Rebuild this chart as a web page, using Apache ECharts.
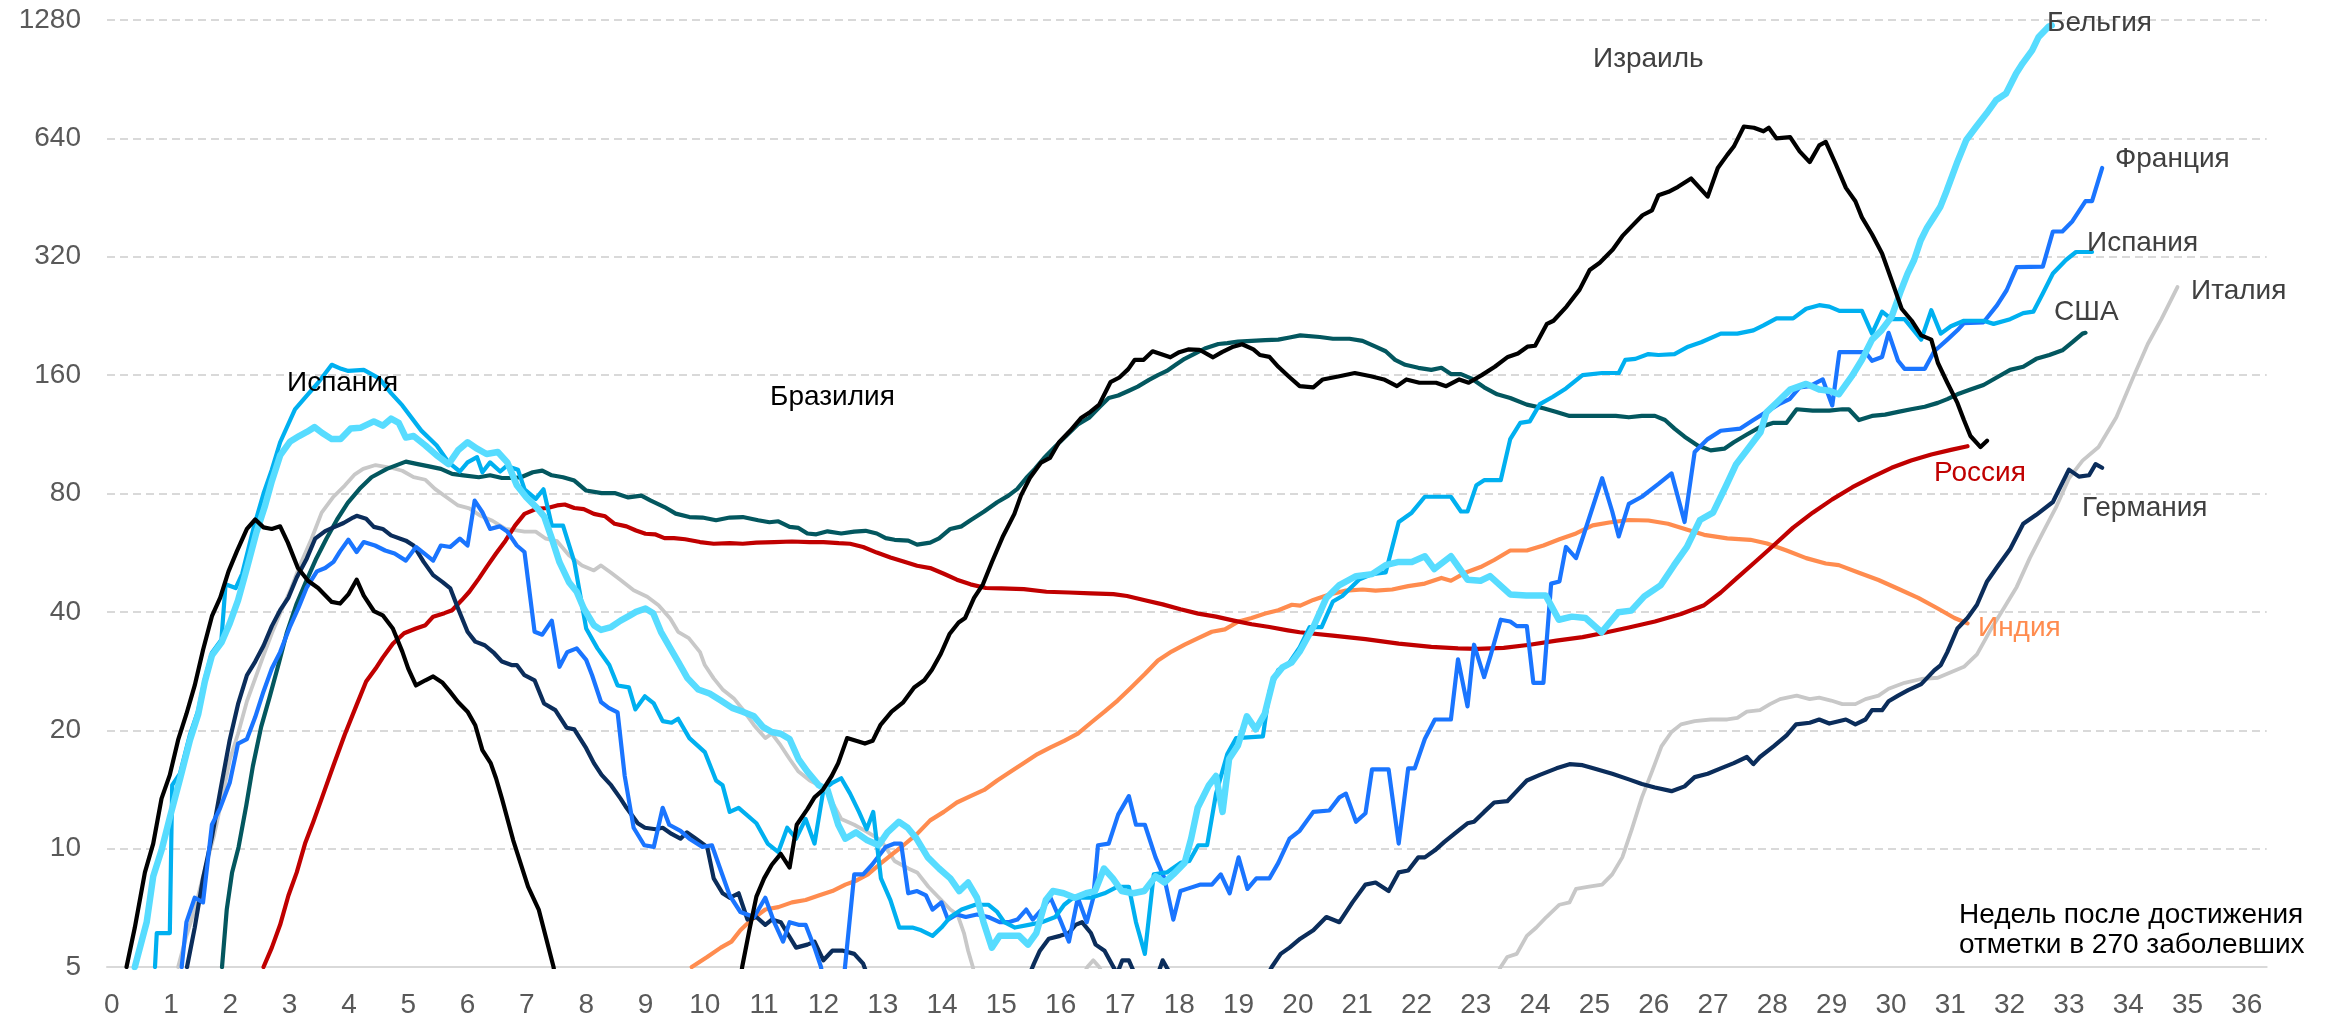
<!DOCTYPE html>
<html>
<head>
<meta charset="utf-8">
<script src="https://cdn.jsdelivr.net/npm/echarts@6/dist/echarts.min.js"></script>
<style>
html,body{margin:0;padding:0;background:#fff;}
#c{width:2331px;height:1019px;}
</style>
</head>
<body>
<div id="c"></div>
<script>
// ---- Axis ticks ----
const WEEK_TICKS = Array.from({length: 37}, (_, i) => i);
const Y_TICK_LABELS = [5, 10, 20, 40, 80, 160, 320, 640, 1280];

// ---- Series data: [weeks since 270 cases, value] ----
const ISRAEL = [[0.25,5],[0.39,6.3],[0.56,8.7],[0.70,10.3],[0.84,13.4],[0.98,15.4],[1.12,18.9],[1.26,22],[1.40,26],[1.54,32],[1.69,39],[1.83,43.5],[1.97,50.7],[2.11,57],[2.28,65],[2.42,68.7],[2.56,65.6],[2.70,65],[2.84,66],[2.97,60],[3.14,51.7],[3.31,48],[3.48,46],[3.71,42.4],[3.85,42],[3.99,44.3],[4.13,48.3],[4.25,44],[4.42,40.2],[4.57,39.2],[4.74,36.3],[4.90,31.7],[5.0,28.7],[5.13,26],[5.29,26.8],[5.42,27.4],[5.58,26.4],[5.70,25.1],[5.84,23.6],[6.0,22.3],[6.13,20.6],[6.25,17.8],[6.39,16.5],[6.48,15.1],[6.58,13.4],[6.77,10.5],[7.02,8],[7.2,7],[7.45,5],[7.6,3.5],[9,2.5],[10.5,3.5],[10.63,5],[10.76,6.3],[10.87,7.55],[11.0,8.4],[11.13,9.1],[11.28,9.7],[11.43,8.95],[11.55,11.5],[11.73,12.6],[11.85,13.5],[11.99,14.1],[12.14,15.3],[12.25,16.5],[12.40,19.1],[12.55,18.8],[12.70,18.5],[12.83,18.8],[12.96,20.6],[13.15,22.3],[13.34,23.5],[13.53,25.7],[13.70,26.8],[13.83,28.5],[13.98,31.3],[14.13,35.2],[14.28,37.6],[14.39,38.6],[14.54,43.4],[14.69,47],[14.84,53.5],[15.03,62.4],[15.22,71],[15.33,79],[15.48,87.6],[15.67,95.9],[15.82,98.5],[15.97,107.8],[16.16,115.5],[16.35,124.7],[16.50,129],[16.65,134.6],[16.84,153.5],[16.99,157.8],[17.14,165.7],[17.25,175],[17.40,175],[17.55,184],[17.70,180.7],[17.85,177.6],[18.0,183],[18.15,186],[18.34,185.6],[18.57,177.6],[18.72,183],[18.91,189],[19.06,191.7],[19.25,186],[19.36,180],[19.52,178],[19.67,168],[19.86,158],[20.03,150],[20.26,149],[20.42,156],[20.7,159],[20.96,162],[21.23,159],[21.45,156],[21.67,150],[21.83,156],[22.05,153],[22.33,153],[22.5,150],[22.72,156],[22.88,153],[23.1,160],[23.32,168],[23.54,178],[23.71,181.6],[23.87,189],[24.0,190],[24.2,216],[24.31,220],[24.53,239],[24.75,264],[24.92,296],[25.09,309],[25.31,334],[25.47,361],[25.64,384],[25.81,408],[25.97,420],[26.08,459],[26.25,468],[26.41,482],[26.63,506],[26.91,455],[27.08,538],[27.24,581],[27.35,610],[27.52,686],[27.69,681],[27.85,667],[27.94,681],[28.07,640],[28.3,645],[28.46,593],[28.63,557],[28.79,614],[28.9,627],[29.07,550],[29.24,479],[29.4,443],[29.51,403],[29.68,365],[29.85,326],[30.01,279],[30.18,236],[30.35,220],[30.51,202],[30.68,197],[30.79,172],[30.95,153],[31.12,136],[31.23,123],[31.34,112],[31.51,105],[31.62,109]];

const BELGIUM = [[0.39,5],[0.59,6.5],[0.70,8.5],[0.84,9.9],[0.98,12],[1.15,15],[1.32,18.9],[1.46,22],[1.57,26.6],[1.69,31],[1.85,33.4],[1.99,37.4],[2.13,42.8],[2.28,51.7],[2.44,63.7],[2.58,74],[2.70,86],[2.84,100],[3.01,108.5],[3.16,112],[3.29,114.7],[3.42,118],[3.55,114],[3.71,110],[3.86,110],[4.03,117],[4.19,117.5],[4.42,122],[4.57,119],[4.71,124],[4.84,121],[4.96,111],[5.09,112],[5.29,106],[5.48,100],[5.68,95],[5.84,103],[6.0,108],[6.16,104],[6.32,100.8],[6.51,102],[6.67,96],[6.83,84],[6.99,78.3],[7.19,73],[7.29,70],[7.42,61.5],[7.55,53.5],[7.71,47.6],[7.84,45],[7.96,40.8],[8.13,37],[8.25,36],[8.42,36.6],[8.58,38],[8.74,39.2],[8.84,40],[9.0,40.8],[9.13,39.7],[9.26,35.6],[9.42,32.3],[9.55,29.9],[9.71,27.1],[9.89,25.4],[10.08,24.8],[10.27,23.8],[10.46,22.8],[10.64,22.3],[10.83,21.7],[10.98,20.4],[11.13,19.8],[11.28,19.6],[11.43,19],[11.58,16.9],[11.73,15.7],[11.92,14.5],[12.07,14.1],[12.25,11.5],[12.37,10.6],[12.55,11.0],[12.74,10.5],[12.93,10.2],[13.08,11],[13.27,11.7],[13.42,11.3],[13.57,10.6],[13.76,9.5],[13.95,8.9],[14.14,8.4],[14.29,7.8],[14.44,8.2],[14.59,7.5],[14.70,6.5],[14.84,5.6],[14.97,6.0],[15.15,6.0],[15.3,6.0],[15.45,5.7],[15.59,6.1],[15.75,7.4],[15.87,7.8],[16.05,7.7],[16.24,7.5],[16.43,7.7],[16.58,7.8],[16.73,8.9],[16.88,8.4],[17.03,7.8],[17.22,7.7],[17.41,7.8],[17.6,8.5],[17.75,8.2],[17.9,8.6],[18.09,9.2],[18.2,10.6],[18.31,12.7],[18.5,14.5],[18.62,15.3],[18.73,12.4],[18.84,16.9],[18.99,18.3],[19.14,21.7],[19.29,20.1],[19.44,22],[19.59,27.1],[19.74,28.9],[19.89,29.7],[20.03,31.7],[20.26,36.6],[20.48,43.4],[20.7,46.8],[20.98,49.3],[21.25,49.9],[21.48,52.6],[21.7,53.6],[21.92,53.6],[22.14,55.4],[22.3,51.4],[22.58,55.4],[22.86,48.3],[23.08,48],[23.24,49.3],[23.58,44.3],[23.85,44],[24.18,44],[24.4,38.2],[24.62,38.9],[24.85,38.6],[25.12,35.5],[25.4,39.9],[25.62,40.3],[25.84,43.8],[26.12,46.8],[26.34,52.5],[26.56,58.5],[26.78,68.5],[27.0,71.5],[27.22,83.7],[27.39,95],[27.57,103],[27.8,114.5],[27.9,128.7],[28.07,136],[28.3,147],[28.57,152],[28.79,147],[28.96,146],[29.12,143],[29.34,159],[29.51,175],[29.68,197],[29.84,208],[30.01,225],[30.17,263],[30.28,290],[30.39,314],[30.5,352],[30.61,380],[30.72,403],[30.83,428],[30.94,471],[31.11,553],[31.27,634],[31.44,686],[31.61,740],[31.77,800],[31.94,832],[32.11,936],[32.22,993],[32.38,1071],[32.49,1159],[32.66,1232],[32.71,1240]];

const SPAIN = [[0.73,5],[0.76,6.1],[0.98,6.1],[1.02,14.5],[1.15,15.5],[1.32,19.5],[1.46,22.5],[1.57,27],[1.69,31.5],[1.85,34],[1.92,47],[2.09,46],[2.2,50],[2.4,66],[2.56,80],[2.7,92],[2.84,108],[3.09,131],[3.29,142],[3.48,153],[3.71,170],[3.87,166],[3.99,164],[4.25,165],[4.51,157],[4.71,144],[4.90,134],[5.22,115.6],[5.48,106],[5.68,96],[5.87,91],[6.0,96],[6.16,99],[6.25,90.6],[6.38,96],[6.55,91],[6.66,94],[6.85,92],[6.96,82],[7.15,77.5],[7.28,82],[7.42,66.3],[7.61,66.3],[7.80,53.6],[8.0,36.3],[8.19,32.3],[8.39,29.3],[8.53,26],[8.72,25.7],[8.83,22.6],[8.99,24.4],[9.14,23.4],[9.29,21.1],[9.44,20.9],[9.55,21.4],[9.74,19.1],[10.0,17.6],[10.19,14.9],[10.3,14.5],[10.42,12.4],[10.57,12.7],[10.87,11.6],[11.06,10.3],[11.24,9.8],[11.39,11.3],[11.54,10.6],[11.7,11.9],[11.85,10.3],[12.0,14.1],[12.15,14.7],[12.3,15.1],[12.45,13.8],[12.6,12.4],[12.73,11.2],[12.84,12.4],[12.97,8.4],[13.13,7.4],[13.28,6.3],[13.5,6.3],[13.65,6.2],[13.84,6.0],[13.99,6.3],[14.14,6.7],[14.33,7.0],[14.56,7.2],[14.78,7.2],[14.93,6.9],[15.05,6.5],[15.23,6.3],[15.46,6.4],[15.68,6.5],[15.91,6.7],[16.06,7.2],[16.21,7.5],[16.51,7.5],[16.74,7.7],[16.96,8.0],[17.15,8.0],[17.27,6.5],[17.42,5.4],[17.57,8.6],[17.79,8.7],[18.02,9.2],[18.17,9.3],[18.32,10.2],[18.47,10.2],[18.62,13.8],[18.81,17.4],[18.96,19.1],[19.41,19.3],[19.52,25.1],[19.67,28.5],[19.83,29.3],[20.03,32.5],[20.2,36.6],[20.4,36.6],[20.59,42.5],[20.75,43.9],[21.03,48.3],[21.25,49.9],[21.48,50.4],[21.7,67.7],[21.92,71.5],[22.14,78.5],[22.58,78.5],[22.75,72],[22.86,72],[23.01,84],[23.14,86.5],[23.42,86.5],[23.58,110],[23.75,121],[23.91,122],[24.08,135],[24.3,141],[24.52,148],[24.8,160],[25.13,162],[25.41,162],[25.52,175],[25.69,176],[25.91,181],[26.08,180],[26.35,181],[26.58,189],[26.8,194],[27.13,204],[27.41,204],[27.68,208],[27.85,214],[28.07,223],[28.35,223],[28.57,236],[28.79,241],[28.96,239],[29.13,233],[29.51,233],[29.68,204],[29.85,232],[30.01,222],[30.23,222],[30.51,197],[30.68,234],[30.84,204],[31.01,213],[31.23,220],[31.56,220],[31.73,216],[32.01,222],[32.23,230],[32.4,232],[32.56,258],[32.73,290],[32.95,314],[33.12,329],[33.39,329]];

const FRANCE = [[1.18,5],[1.26,6.5],[1.40,7.5],[1.54,7.3],[1.69,11.5],[1.83,12.7],[1.99,14.7],[2.13,18.5],[2.28,19],[2.42,21.6],[2.56,25.1],[2.70,28.7],[2.84,31.6],[3.01,36.8],[3.15,41],[3.29,46.2],[3.46,50.7],[3.60,51.7],[3.74,53.6],[3.85,57],[3.99,61],[4.13,56.8],[4.25,60.2],[4.44,59],[4.61,57.3],[4.77,56.3],[4.96,54],[5.13,58.5],[5.29,56],[5.42,54],[5.55,59],[5.71,58.5],[5.87,61.4],[6.0,59],[6.12,76.7],[6.25,71.7],[6.38,65],[6.54,66],[6.67,64],[6.83,59],[6.96,56.8],[7.13,35.6],[7.26,35],[7.42,38],[7.55,29],[7.68,31.6],[7.84,32.3],[8.0,30.2],[8.1,27.6],[8.25,23.6],[8.38,22.8],[8.53,22.2],[8.65,15.3],[8.8,11.3],[8.98,10.2],[9.14,10.1],[9.29,12.7],[9.4,11.5],[9.59,11.1],[9.74,10.6],[9.96,10.1],[10.12,10.2],[10.27,8.8],[10.42,7.6],[10.6,6.9],[10.83,6.7],[11.02,7.5],[11.17,6.5],[11.32,5.8],[11.43,6.5],[11.58,6.4],[11.7,6.4],[11.85,5.6],[11.96,5],[12.1,3.5],[12.3,4],[12.52,8.6],[12.67,8.6],[12.82,9.1],[13.05,10.1],[13.2,10.3],[13.31,10.3],[13.43,7.7],[13.58,7.8],[13.73,7.6],[13.84,7.0],[13.99,7.3],[14.1,6.6],[14.25,6.8],[14.4,6.7],[14.59,6.8],[14.78,6.7],[14.97,6.5],[15.12,6.5],[15.27,6.6],[15.42,7.0],[15.53,6.6],[15.68,7.0],[15.83,7.5],[15.99,6.6],[16.14,5.8],[16.29,7.5],[16.44,6.5],[16.55,7.5],[16.63,10.2],[16.81,10.3],[16.97,12.2],[17.15,13.6],[17.27,11.5],[17.42,11.5],[17.6,9.5],[17.75,8.4],[17.9,6.6],[18.02,7.8],[18.13,7.9],[18.36,8.1],[18.55,8.1],[18.7,8.6],[18.85,7.7],[19.0,9.5],[19.15,7.9],[19.3,8.4],[19.52,8.4],[19.67,9.2],[19.86,10.6],[20.03,11.1],[20.26,12.4],[20.53,12.5],[20.7,13.5],[20.81,13.8],[20.98,11.7],[21.14,12.3],[21.25,15.9],[21.53,15.9],[21.7,10.3],[21.86,16.0],[21.97,16],[22.14,19],[22.31,21.3],[22.58,21.3],[22.7,30.3],[22.86,23],[22.97,33],[23.14,27.3],[23.25,31],[23.42,38.2],[23.58,37.8],[23.69,36.8],[23.86,36.8],[23.97,26.4],[24.14,26.4],[24.27,47.2],[24.41,47.8],[24.52,58.5],[24.69,54.8],[24.91,69.2],[25.13,87.5],[25.3,72],[25.41,62.2],[25.58,75.3],[25.8,78.5],[26.08,84.6],[26.3,90],[26.52,67.7],[26.69,102],[26.91,110],[27.13,115.5],[27.46,117],[27.68,123],[27.9,129],[28.13,135.5],[28.29,139],[28.46,149],[28.63,150],[28.85,156],[29.01,134],[29.13,183],[29.57,183],[29.68,174],[29.85,178],[29.96,205],[30.12,174],[30.23,166],[30.57,166],[30.73,184],[30.95,197],[31.12,208],[31.23,217],[31.56,218],[31.79,241],[31.95,263],[32.12,301],[32.56,302],[32.73,371],[32.89,371],[33.06,394],[33.28,443],[33.39,443],[33.56,538]];

const GERMANY = [[1.27,5],[1.40,6.3],[1.54,8.4],[1.69,10.7],[1.83,14],[1.99,18.9],[2.13,23.3],[2.28,27.6],[2.42,29.9],[2.56,32.8],[2.70,36.8],[2.84,40.4],[2.98,43.5],[3.12,48.9],[3.29,54.7],[3.43,61.4],[3.6,64.2],[3.74,65.6],[3.91,67.3],[4.07,69.5],[4.13,70.2],[4.29,69],[4.42,65.8],[4.57,65],[4.71,62.6],[4.96,60.7],[5.09,59],[5.26,53.6],[5.42,49.6],[5.58,47.6],[5.71,45.9],[5.84,40.8],[6.0,35.6],[6.13,33.6],[6.29,32.9],[6.45,31.4],[6.58,29.9],[6.74,29.3],[6.83,29.3],[6.96,27.6],[7.13,26.8],[7.29,23.4],[7.48,22.5],[7.67,20.3],[7.8,20.1],[8.0,18],[8.13,16.5],[8.26,15.4],[8.42,14.5],[8.58,13.4],[8.68,12.7],[8.87,11.6],[8.99,11.3],[9.17,11.2],[9.29,11.3],[9.44,10.9],[9.59,10.6],[9.7,11.0],[9.85,10.6],[10.04,10.1],[10.15,8.4],[10.3,7.7],[10.42,7.5],[10.57,7.7],[10.72,6.6],[10.87,6.7],[11.02,6.4],[11.13,6.6],[11.28,6.5],[11.39,6.1],[11.54,5.6],[11.73,5.7],[11.85,5.8],[12.0,5.2],[12.15,5.5],[12.33,5.5],[12.52,5.4],[12.67,5.1],[12.8,4.5],[14,3],[15.4,4.5],[15.55,5.1],[15.65,5.5],[15.8,5.9],[15.99,6.0],[16.14,6.1],[16.25,6.4],[16.36,6.5],[16.51,6.1],[16.59,5.7],[16.74,5.5],[16.89,5.0],[16.95,4.8],[17.04,5.2],[17.15,5.2],[17.25,4.8],[17.6,4.6],[17.72,5.2],[17.85,4.8],[18.5,3.5],[19.4,4.5],[19.56,5],[19.71,5.4],[19.86,5.6],[20.04,5.9],[20.26,6.2],[20.48,6.7],[20.7,6.5],[20.92,7.3],[21.14,8.1],[21.31,8.2],[21.53,7.8],[21.7,8.7],[21.86,8.8],[22.03,9.5],[22.14,9.5],[22.31,9.9],[22.47,10.4],[22.7,11.1],[22.86,11.6],[22.97,11.7],[23.14,12.4],[23.31,13.1],[23.53,13.2],[23.69,14],[23.86,14.9],[24.08,15.4],[24.36,16],[24.58,16.4],[24.8,16.3],[24.98,16],[25.3,15.5],[25.58,15],[25.8,14.6],[26.02,14.3],[26.3,14],[26.52,14.4],[26.69,15.2],[26.91,15.5],[27.13,16],[27.35,16.5],[27.57,17.1],[27.68,16.4],[27.79,17.1],[28.02,18.2],[28.24,19.4],[28.4,20.7],[28.63,20.9],[28.79,21.3],[28.96,20.8],[29.24,21.3],[29.4,20.7],[29.57,21.3],[29.68,22.5],[29.85,22.5],[29.96,23.7],[30.12,24.5],[30.29,25.3],[30.51,26.2],[30.73,28.4],[30.84,29.3],[30.95,31.6],[31.12,36.3],[31.29,38.6],[31.45,41.7],[31.62,47.8],[31.79,52],[32.01,57.8],[32.23,67],[32.45,70.6],[32.73,76.1],[33.0,92],[33.17,88.3],[33.34,89],[33.45,95],[33.56,93]];

const ITALY = [[1.12,5],[1.26,6],[1.4,7.0],[1.54,8.5],[1.72,10.7],[1.86,13.4],[1.99,16.8],[2.13,19.6],[2.28,23.7],[2.42,27.1],[2.56,31],[2.7,35.3],[2.84,39.7],[3.01,45.3],[3.18,52.8],[3.37,61.4],[3.54,71.5],[3.74,78.5],[3.93,83.8],[4.1,89.5],[4.24,92.4],[4.45,94.5],[4.71,93],[4.9,91.4],[5.09,88],[5.29,86.7],[5.45,82.2],[5.64,78.4],[5.84,74.6],[6.03,73.3],[6.22,70.2],[6.42,68.2],[6.64,65],[6.83,64.5],[6.96,64],[7.15,64],[7.32,61.4],[7.51,60.5],[7.71,55.7],[7.93,52.5],[8.13,51],[8.25,52.5],[8.42,50.3],[8.58,48.2],[8.8,45.4],[9.03,43.7],[9.22,41.6],[9.42,38.4],[9.55,35.6],[9.73,34.3],[9.92,31.6],[10.0,29.3],[10.15,27.1],[10.3,25.4],[10.49,24.1],[10.64,22.6],[10.83,20.6],[11.02,19.1],[11.13,19.6],[11.28,18.3],[11.43,16.9],[11.58,15.7],[11.77,14.9],[11.92,14.5],[12.07,13.8],[12.3,11.9],[12.52,11.5],[12.75,11.0],[12.97,10.5],[13.2,9.3],[13.43,8.9],[13.58,8.7],[13.77,8.0],[13.95,7.5],[14.14,7.0],[14.26,6.8],[14.37,6.1],[14.44,5.5],[14.52,5],[14.7,3.5],[16.3,4.5],[16.45,5.0],[16.55,5.2],[16.65,5.0],[16.8,4.5],[20,3],[23.3,4.6],[23.42,5],[23.53,5.3],[23.69,5.4],[23.86,6.0],[24.02,6.3],[24.19,6.7],[24.41,7.2],[24.58,7.3],[24.69,7.9],[24.91,8],[25.13,8.1],[25.3,8.6],[25.47,9.5],[25.63,11.2],[25.8,13.5],[25.97,15.7],[26.13,18.2],[26.3,19.8],[26.46,20.7],[26.69,21.1],[26.96,21.3],[27.24,21.3],[27.41,21.5],[27.57,22.3],[27.79,22.5],[27.96,23.3],[28.13,24],[28.41,24.5],[28.63,24],[28.79,24.2],[28.99,23.8],[29.18,23.3],[29.4,23.3],[29.57,24],[29.79,24.5],[29.96,25.5],[30.23,26.4],[30.51,27],[30.79,27.2],[31.01,28.1],[31.23,29],[31.45,31.2],[31.67,35.8],[31.9,40.8],[32.12,46.3],[32.34,54.8],[32.56,63.6],[32.78,73.6],[33.0,87.4],[33.23,97],[33.5,105],[33.8,125],[34.1,160],[34.33,192],[34.56,222],[34.83,268]];

const USA = [[1.86,5],[1.94,7.0],[2.03,8.7],[2.14,10.1],[2.27,12.9],[2.38,16.2],[2.52,20.4],[2.66,24.2],[2.81,29.3],[2.95,35.3],[3.12,42],[3.28,47.9],[3.45,54.7],[3.62,61.4],[3.8,68.7],[3.98,75.7],[4.18,82.2],[4.38,88],[4.64,92.4],[4.96,96.4],[5.16,95],[5.35,93.8],[5.55,92.4],[5.74,89.7],[5.93,89],[6.19,88],[6.38,89],[6.58,87.6],[6.77,87.6],[6.9,88],[7.1,90.6],[7.26,91.5],[7.42,89],[7.61,88],[7.8,86.3],[8.0,81.4],[8.26,80.2],[8.48,80.2],[8.71,78.2],[8.93,79],[9.09,76.7],[9.32,73.9],[9.51,71.1],[9.74,69.7],[9.96,69.5],[10.19,68.4],[10.42,69.5],[10.64,69.7],[10.9,68.4],[11.09,67.6],[11.24,68],[11.43,65.8],[11.58,65.4],[11.73,63.3],[11.88,63],[12.07,64.1],[12.3,63.3],[12.52,64],[12.71,64.3],[12.9,63.3],[13.05,61.6],[13.2,61],[13.43,60.7],[13.58,59.3],[13.8,60],[13.95,61.5],[14.14,65],[14.33,66],[14.48,68.4],[14.71,72],[14.93,76],[15.12,79],[15.27,82.2],[15.42,87.6],[15.57,92.5],[15.72,98.5],[15.91,105.4],[16.1,112.3],[16.29,119.8],[16.48,124.7],[16.66,133],[16.81,140],[16.97,142],[17.15,146],[17.3,149.6],[17.49,155.6],[17.64,160],[17.79,164],[17.94,170],[18.09,176],[18.28,182],[18.43,187],[18.66,192],[18.81,193],[18.99,194.6],[19.22,195.6],[19.45,196.5],[19.67,197],[19.86,199.5],[20.04,202],[20.37,200],[20.59,198],[20.87,198],[21.09,195.6],[21.31,189],[21.48,184],[21.64,175],[21.81,170],[22.03,167],[22.25,165],[22.42,167],[22.58,161],[22.75,161],[22.92,157],[23.14,149],[23.36,143],[23.58,140],[23.86,134.6],[24.14,131.8],[24.36,129],[24.58,126],[24.86,126],[25.13,126],[25.36,126],[25.58,125],[25.8,126],[26.02,126],[26.19,123],[26.35,117],[26.52,111.6],[26.74,106],[26.96,103],[27.19,104],[27.35,108],[27.57,113],[27.79,118],[28.02,121],[28.24,121],[28.41,131],[28.68,130],[28.96,130],[29.18,131],[29.29,131],[29.46,123],[29.68,126],[29.9,127],[30.12,129],[30.34,131],[30.57,133],[30.79,136],[30.95,139],[31.12,143],[31.34,147],[31.56,151],[31.79,158],[32.01,165],[32.23,168],[32.45,176],[32.67,180],[32.89,185],[33.06,194],[33.23,204],[33.28,205]];

const RUSSIA = [[2.56,5],[2.7,5.6],[2.84,6.4],[2.98,7.6],[3.12,8.7],[3.26,10.3],[3.4,11.7],[3.54,13.4],[3.74,16.3],[3.93,19.5],[4.13,23.2],[4.29,26.6],[4.45,28.7],[4.57,30.6],[4.74,33.2],[4.93,35.3],[5.13,36.3],[5.29,37],[5.42,38.9],[5.61,39.7],[5.74,40.4],[5.9,42.8],[6.03,45],[6.19,48.6],[6.32,52],[6.48,56.3],[6.64,60.7],[6.8,66.3],[6.96,71],[7.16,73.1],[7.35,73.5],[7.51,74.6],[7.64,75],[7.8,73.5],[7.96,73],[8.13,71],[8.32,70],[8.48,67],[8.68,66],[8.84,64.4],[9.0,63.2],[9.16,63],[9.32,61.6],[9.48,61.6],[9.67,61.2],[9.92,60.2],[10.15,59.6],[10.42,59.8],[10.64,59.6],[10.87,60],[11.17,60.2],[11.47,60.4],[11.77,60.2],[12.0,60.2],[12.26,59.8],[12.45,59.6],[12.67,58.5],[12.9,56.6],[13.13,55],[13.35,53.7],[13.58,52.4],[13.8,51.7],[14.03,50],[14.25,48.3],[14.48,47],[14.74,46],[15.0,45.9],[15.38,45.7],[15.76,45],[16.14,44.8],[16.51,44.6],[16.89,44.4],[17.12,43.9],[17.42,42.8],[17.72,41.8],[18.02,40.6],[18.32,39.6],[18.62,38.9],[18.92,38],[19.22,37.2],[19.52,36.6],[19.83,35.9],[20.03,35.5],[20.59,34.8],[21.14,34.1],[21.7,33.2],[22.25,32.6],[22.7,32.3],[23.03,32.2],[23.47,32.4],[23.91,33],[24.36,33.8],[24.8,34.5],[25.13,35.3],[25.58,36.5],[26.02,37.8],[26.46,39.5],[26.85,41.6],[27.13,44.8],[27.41,48.9],[27.68,53.1],[28.02,59],[28.35,65.5],[28.68,71.5],[29.01,77.3],[29.35,83],[29.68,88],[30.01,93],[30.34,97],[30.68,100.5],[31.01,103.3],[31.29,105.5]];

const INDIA = [[9.78,5],[10.04,5.3],[10.27,5.6],[10.45,5.8],[10.6,6.2],[10.79,6.6],[11.02,7.0],[11.24,7.1],[11.47,7.3],[11.7,7.4],[11.92,7.6],[12.15,7.8],[12.37,8.1],[12.56,8.3],[12.75,8.6],[12.94,9.1],[13.13,9.6],[13.35,10.2],[13.58,10.9],[13.8,11.8],[14.03,12.4],[14.25,13.1],[14.48,13.6],[14.71,14.1],[14.93,14.9],[15.16,15.7],[15.38,16.5],[15.61,17.4],[15.83,18.1],[16.06,18.8],[16.29,19.6],[16.51,20.9],[16.74,22.3],[16.96,23.8],[17.19,25.7],[17.42,27.8],[17.64,30.1],[17.87,31.7],[18.09,33],[18.32,34.3],[18.55,35.6],[18.77,36.1],[19.0,37.8],[19.22,38.6],[19.45,39.6],[19.67,40.4],[19.9,41.7],[20.04,41.5],[20.26,42.9],[20.53,44.3],[20.81,45.3],[21.09,45.6],[21.31,45.3],[21.59,45.6],[21.86,46.5],[22.14,47.2],[22.42,48.8],[22.58,48],[22.81,50.2],[23.08,52],[23.31,54.2],[23.58,57.3],[23.86,57.3],[24.14,59],[24.41,61.2],[24.69,63.3],[24.97,66.4],[25.25,67.5],[25.58,68.5],[25.91,68.3],[26.24,67],[26.58,64.6],[26.85,62.8],[27.24,61.5],[27.63,61],[27.91,59.7],[28.24,57.3],[28.57,54.8],[28.9,53.1],[29.12,52.6],[29.46,50.3],[29.79,48.2],[30.12,45.8],[30.46,43.4],[30.79,40.8],[31.07,38.6],[31.29,37.4]];

// ---- Label texts ----
const LABELS = {
  spainLeft: 'Испания', brazil: 'Бразилия', israel: 'Израиль', belgium: 'Бельгия',
  france: 'Франция', spain: 'Испания', italy: 'Италия', usa: 'США',
  russia: 'Россия', germany: 'Германия', india: 'Индия',
  axis1: 'Недель после достижения', axis2: 'отметки в 270 заболевших'
};

// ---- Chart ----
const Y_BASE = 5;
const toLog = v => Math.log2(v / Y_BASE);
const mk = (name, data, color, width, z) => ({
  name, type: 'line', data: data.map(([w, v]) => [w, toLog(v)]),
  showSymbol: false, symbol: 'none', clip: true, z: z,
  lineStyle: { color, width, cap: 'round', join: 'round' }, itemStyle: { color },
  emphasis: { disabled: true }
});

const FONT = '"Liberation Sans", Arial, sans-serif';
const chart = echarts.init(document.getElementById('c'), null, { renderer: 'canvas', width: 2331, height: 1019 });
const txt = (text, x, y, fill) => ({
  type: 'text', x, y, z: 100,
  style: { text, fill, font: '28px ' + FONT, align: 'left', verticalAlign: 'middle' }
});

chart.setOption({
  animation: false,
  backgroundColor: '#ffffff',
  grid: { left: 107, right: 64.3, top: 20, bottom: 49.7, containLabel: false },
  xAxis: {
    type: 'value', min: -0.0792, max: 36.335,
    axisLine: { show: true, lineStyle: { color: '#D9D9D9', width: 2 } },
    axisTick: { show: false },
    splitLine: { show: false },
    axisLabel: {
      customValues: WEEK_TICKS, color: '#595959', fontSize: 28, fontFamily: FONT, margin: 24,
      formatter: v => String(Math.round(v))
    }
  },
  yAxis: {
    type: 'value', min: 0, max: Y_TICK_LABELS.length - 1, interval: 1,
    axisLine: { show: false }, axisTick: { show: false },
    splitLine: { show: true, lineStyle: { color: '#D9D9D9', width: 2, type: [8, 5] } },
    axisLabel: {
      color: '#595959', fontSize: 28, fontFamily: FONT, margin: 26,
      formatter: v => String(Y_TICK_LABELS[Math.round(v)])
    }
  },
  series: [
    mk('Италия', ITALY, '#C8C8C8', 3.8, 2),
    mk('Индия', INDIA, '#FF8C4F', 4.2, 3),
    mk('Россия', RUSSIA, '#C00000', 4.2, 4),
    mk('США', USA, '#03575F', 4.2, 5),
    mk('Германия', GERMANY, '#0B2D5B', 4.2, 6),
    mk('Франция', FRANCE, '#1A75FF', 4.2, 7),
    mk('Испания', SPAIN, '#00B0F0', 4.2, 8),
    mk('Бельгия', BELGIUM, '#57DCFF', 6.5, 9),
    mk('Израиль', ISRAEL, '#000000', 4.2, 10)
  ],
  graphic: [
    txt(LABELS.spainLeft, 287, 383, '#000000'),
    txt(LABELS.brazil, 770, 397, '#000000'),
    txt(LABELS.israel, 1593, 59, '#404040'),
    txt(LABELS.belgium, 2047, 23, '#404040'),
    txt(LABELS.france, 2115, 159, '#404040'),
    txt(LABELS.spain, 2087, 243, '#404040'),
    txt(LABELS.italy, 2191, 291, '#404040'),
    txt(LABELS.usa, 2054, 312, '#404040'),
    txt(LABELS.russia, 1934, 473, '#C00000'),
    txt(LABELS.germany, 2082, 508, '#404040'),
    txt(LABELS.india, 1978, 628, '#FF8C4F'),
    txt(LABELS.axis1, 1959, 915, '#000000'),
    txt(LABELS.axis2, 1959, 945, '#000000')
  ]
});
</script>
</body>
</html>
